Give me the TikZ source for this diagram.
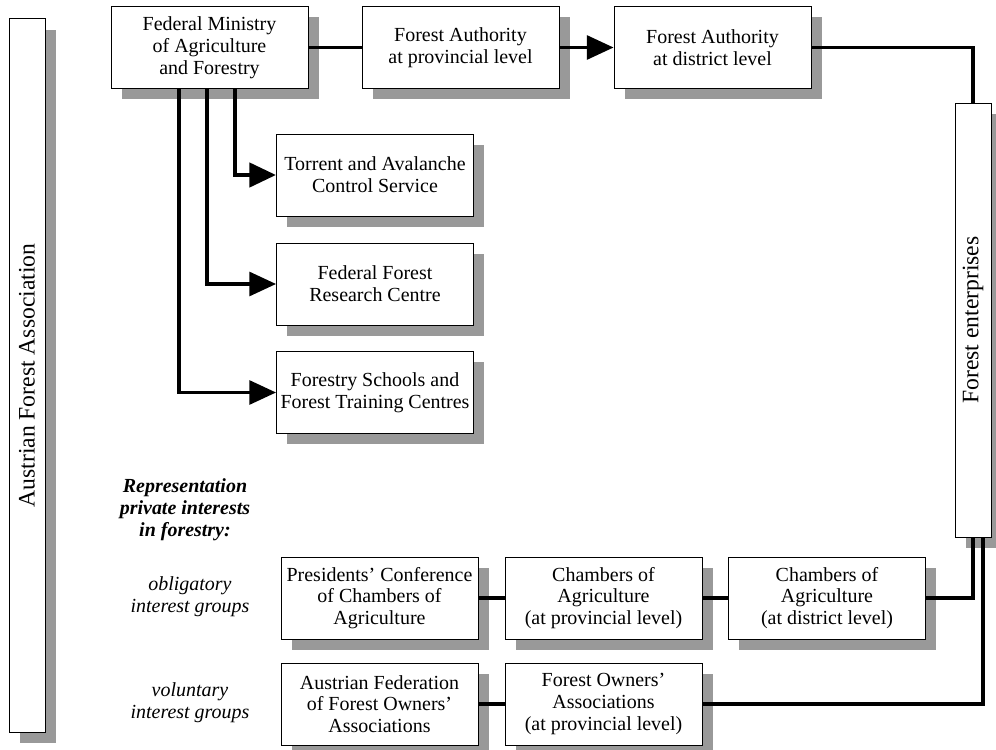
\documentclass[tikz,border=0pt]{standalone}
\usepackage{fontspec}
\setmainfont{Liberation Serif}
\usetikzlibrary{arrows.meta,shadows}
\definecolor{shadowgray}{RGB}{153,153,153}
\tikzset{
  box/.style={draw, fill=white, line width=0.6pt, minimum width=4.925cm, minimum height=2.05cm,
    align=center, inner sep=0pt,
    general shadow={fill=shadowgray, shadow xshift=7.8pt, shadow yshift=-7.8pt}},
  tallbox/.style={box, minimum width=0.9cm, font=\fontsize{16.8}{18}\selectfont},
  link/.style={line width=2.3pt},
  arr/.style={link, -{Triangle[length=19pt,width=17pt]}},
  note/.style={align=center, inner sep=0pt}
}
\begin{document}
\begin{tikzpicture}[x=0.025cm, y=-0.025cm, font=\fontsize{14.2}{15.5}\selectfont]
		\useasboundingbox (0,0) rectangle (996,750);
		% side columns
		\node[tallbox, minimum height=17.825cm] (afa) at (27,375.5) {\rotatebox{90}{Austrian Forest Association}};
		\node[tallbox, minimum height=10.85cm] (fe) at (973,320) {\rotatebox{90}{Forest enterprises}};
		% state forest administration
		\node[box] (min) at (209.5,47.5) {Federal Ministry\\of Agriculture\\and Forestry};
		\node[box] (faprov) at (460.5,47.5) {Forest Authority\\at provincial level};
		\node[box] (fadist) at (712.5,47.5) {Forest Authority\\at district level};
		\node[box] (torrent) at (375,175) {Torrent and Avalanche\\Control Service};
		\node[box] (research) at (375,284) {Federal Forest\\Research Centre};
		\node[box] (schools) at (375,392.5) {Forestry Schools and\\Forest Training Centres};
		% interest groups
		\node[note] (rep) at (185,510) {\bfseries\itshape Representation\\\bfseries\itshape private interests\\\bfseries\itshape in forestry:};
		\node[note] (oblig) at (190,597) {\itshape obligatory\\\itshape interest groups};
		\node[note] (volun) at (190,703) {\itshape voluntary\\\itshape interest groups};
		\node[box] (pres) at (379.5,598) {Presidents' Conference\\of Chambers of\\Agriculture};
		\node[box] (chprov) at (603.5,598) {Chambers of\\Agriculture\\(at provincial level)};
		\node[box] (chdist) at (827,598) {Chambers of\\Agriculture\\(at district level)};
		\node[box] (fed) at (379.5,704) {Austrian Federation\\of Forest Owners'\\Associations};
		\node[box] (owners) at (603.5,704) {Forest Owners'\\Associations\\(at provincial level)};
		% connectors
		\draw[link] (min.east) -- (faprov.west);
		\draw[arr] (faprov.east) -- (fadist.west);
		\draw[link] (fadist.east) -| (fe.north);
		\draw[arr, line width=3.4pt] ([xshift=0.6375cm]min.south) |- (torrent.west);
		\draw[arr] ([xshift=-0.0625cm]min.south) |- (research.west);
		\draw[arr] ([xshift=-0.7625cm]min.south) |- (schools.west);
		\draw[link] (pres.east) -- (chprov.west);
		\draw[link] (chprov.east) -- (chdist.west);
		\draw[link] (chdist.east) -| (fe.south);
		\draw[link] (fed.east) -- (owners.west);
		\draw[link] (owners.east) -| ([xshift=0.25cm]fe.south);
	\end{tikzpicture}
\end{document}
